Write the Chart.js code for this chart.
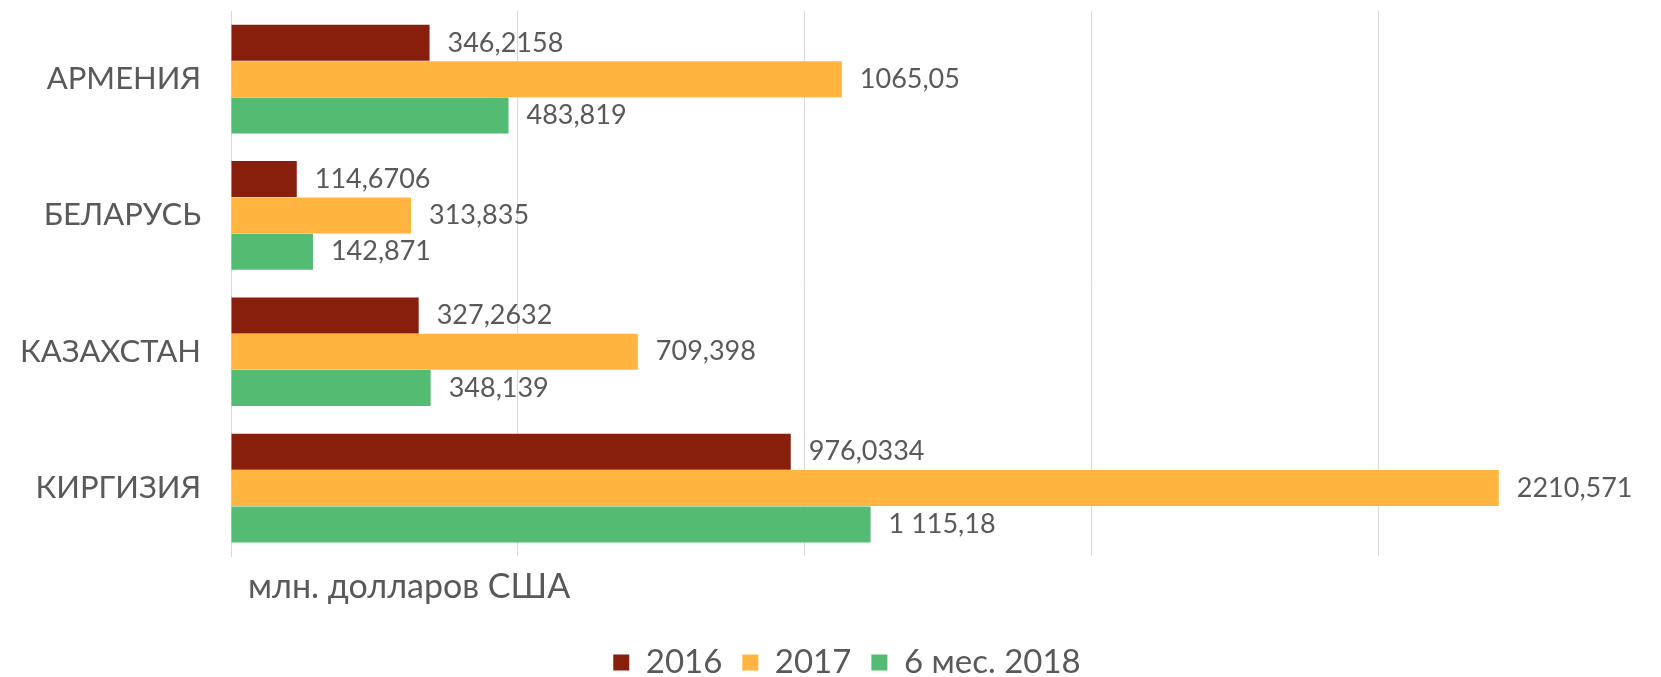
<!DOCTYPE html>
<html lang="ru">
<head>
<meta charset="utf-8">
<script src="https://cdn.jsdelivr.net/npm/chart.js@4.4.1/dist/chart.umd.min.js"></script>
<style>
  html, body { margin: 0; padding: 0; background: #fff; overflow: hidden; }
  /* a bit wider/taller than the window: the 2500 gridline and the legend's
     bottom padding fall outside, like in the cropped original */
  #wrap { width: 1694px; height: 689px; }
</style>
</head>
<body>
<div id="wrap"><canvas id="chart"></canvas></div>
<script>
// Values, in million USD
const countries = ['АРМЕНИЯ', 'БЕЛАРУСЬ', 'КАЗАХСТАН', 'КИРГИЗИЯ'];
const seriesNames = ['2016', '2017', '6 мес. 2018'];
const values2016 = [346.2158, 114.6706, 327.2632, 976.0334];
const values2017 = [1065.05, 313.835, 709.398, 2210.571];
const values2018 = [483.819, 142.871, 348.139, 1115.18];
// label strings exactly as printed next to the bars
const text2016 = ['346,2158', '114,6706', '327,2632', '976,0334'];
const text2017 = ['1065,05', '313,835', '709,398', '2210,571'];
const text2018 = ['483,819', '142,871', '348,139', '1 115,18'];
const unitTitle = '\u2002млн. долларов США';
const GRID_STEP = 500;

const FONT = 'Lato, "Noto Sans", sans-serif';
const TEXT_COLOR = '#595959';
const GRID_COLOR = '#D9D9D9';

// prints the value to the right of every bar
const valueLabels = {
    id: 'valueLabels',
    afterDatasetsDraw(chart) {
        const ctx = chart.ctx;
        ctx.save();
        ctx.font = '27px ' + FONT;
        ctx.fillStyle = TEXT_COLOR;
        ctx.textAlign = 'left';
        ctx.textBaseline = 'middle';
        chart.data.datasets.forEach((ds, i) => {
            chart.getDatasetMeta(i).data.forEach((bar, j) => {
                ctx.fillText(ds.valueText[j], bar.x + 18, bar.y);
            });
        });
        ctx.restore();
    },
};

new Chart(document.getElementById('chart'), {
    type: 'bar',
    data: {
        labels: countries,
        datasets: [
            { label: seriesNames[0], data: values2016, valueText: text2016, backgroundColor: '#871F0C' },
            { label: seriesNames[1], data: values2017, valueText: text2017, backgroundColor: '#FFB53F' },
            { label: seriesNames[2], data: values2018, valueText: text2018, backgroundColor: '#54BC72' },
        ],
    },
    options: {
        indexAxis: 'y',
        responsive: true,
        maintainAspectRatio: false,
        animation: false,
        layout: { padding: { top: 11, left: 0, right: 0, bottom: 0 } },
        datasets: {
            bar: { categoryPercentage: 0.8, barPercentage: 0.99 },
        },
        plugins: {
            legend: {
                position: 'bottom',
                labels: {
                    font: { family: FONT, size: 33 },
                    color: TEXT_COLOR,
                    boxWidth: 16,
                    boxHeight: 16,
                    padding: 20,
                },
            },
            tooltip: { enabled: false },
        },
        scales: {
            x: {
                min: 0,
                max: 2551,
                ticks: { display: false },
                // gridlines every 500, Chart.js would otherwise spread them evenly up to max
                afterBuildTicks: scale => {
                    const ticks = [];
                    for (let v = 0; v <= scale.max; v += GRID_STEP) ticks.push({ value: v });
                    scale.ticks = ticks;
                },
                grid: { drawTicks: false, color: GRID_COLOR },
                border: { display: false },
                title: {
                    display: true,
                    text: unitTitle,
                    align: 'start',
                    font: { family: FONT, size: 34 },
                    color: TEXT_COLOR,
                    padding: { top: 10, bottom: 19 },
                },
            },
            y: {
                grid: { display: false, drawTicks: false },
                border: { color: GRID_COLOR },
                ticks: {
                    font: { family: FONT, size: 31 },
                    color: TEXT_COLOR,
                    padding: 30,
                },
                afterFit: scale => {
                    scale.width = 231;
                    // labels sit inside their bands, no need for the extra room
                    scale.paddingTop = 0;
                    scale.paddingBottom = 0;
                },
            },
        },
    },
    plugins: [valueLabels],
});
</script>
</body>
</html>
